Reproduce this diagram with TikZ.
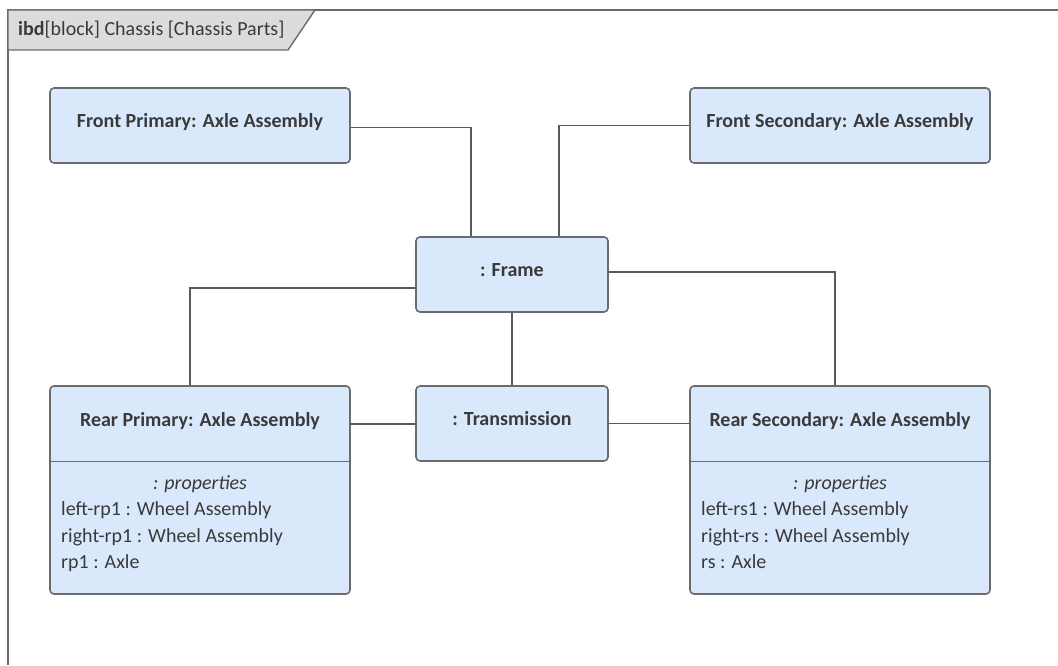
\documentclass[tikz,border=0pt]{standalone}
\usepackage{fontspec}
\setmainfont{Carlito}
\usetikzlibrary{positioning,calc}
\definecolor{Edge}{HTML}{6B6B6B}
\definecolor{Wire}{HTML}{5A5A5A}
\definecolor{Sky}{HTML}{DAE8FC}
\definecolor{Ink}{HTML}{3A3A3A}
\definecolor{TabGray}{HTML}{DCDCDC}
\newcommand{\partfont}{\fontsize{20}{24}\selectfont}
\tikzset{
  partbox/.style={draw=Edge,rounded corners=4pt,fill=Sky,line width=1.6pt,minimum width=300pt,minimum height=75pt,font=\partfont\bfseries,text=Ink,text height=14pt,text depth=10pt},
  smallbox/.style={partbox,minimum width=192pt},
  headbox/.style={minimum width=300pt,minimum height=76pt,font=\partfont\bfseries,text=Ink,text height=14pt,text depth=10pt},
  proptext/.style={text=Ink,anchor=base west,inner sep=0pt},
  wire/.style={draw=Wire,line width=1.3pt}
}

\begin{document}
\begin{tikzpicture}[x=1pt,y=1pt,font=\partfont]
  \useasboundingbox (0,0) rectangle (1058,665);
  % diagram frame and tab
  \draw[draw=Edge,line width=1.8pt] (8,0) -- (8,655) -- (1058,655);
  \draw[draw=Edge,line width=1.4pt,fill=TabGray] (8,655) -- (315,655) -- (288,615) -- (8,615) -- cycle;
  \node[anchor=base west,inner sep=0pt,text=Ink] (title) at (18,629) {\textbf{ibd}[block] Chassis [Chassis Parts]};

  % parts
  \node[partbox] (fp) at (200,539.5) {Front Primary: Axle Assembly};
  \node[partbox] (fs) at (840,539.5) {Front Secondary: Axle Assembly};
  \node[smallbox] (fr) at (512,390.5) {: Frame};
  \node[smallbox] (tr) at (512,241.5) {: Transmission};

  \node[partbox,minimum height=208pt] (rp) at (200,175) {};
  \node[headbox] (rpt) at (200,241) {Rear Primary: Axle Assembly};
  \draw[draw=Edge,line width=1.4pt] ($(rp.north west)+(0,-76)$) -- ($(rp.north east)+(0,-76)$);
  \node[proptext,anchor=base] (rpp) at (200,176) {\itshape : properties};
  \node[proptext] (rp1) at (61,150) {left-rp1 : Wheel Assembly};
  \node[proptext] (rp2) at (61,123) {right-rp1 : Wheel Assembly};
  \node[proptext] (rp3) at (61,97) {rp1 : Axle};

  \node[partbox,minimum height=208pt] (rs) at (840,175) {};
  \node[headbox] (rst) at (840,241) {Rear Secondary: Axle Assembly};
  \draw[draw=Edge,line width=1.4pt] ($(rs.north west)+(0,-76)$) -- ($(rs.north east)+(0,-76)$);
  \node[proptext,anchor=base] (rsp) at (840,176) {\itshape : properties};
  \node[proptext] (rs1) at (701,150) {left-rs1 : Wheel Assembly};
  \node[proptext] (rs2) at (701,123) {right-rs : Wheel Assembly};
  \node[proptext] (rs3) at (701,97) {rs : Axle};

  % connectors
  \draw[wire] ([yshift=-2pt]fp.east) -| ([xshift=-41pt]fr.north);
  \draw[wire] (fs.west) -| ([xshift=47pt]fr.north);
  \draw[wire] ([yshift=-13.5pt]fr.west) -| ([xshift=-10pt]rp.north);
  \draw[wire] ([yshift=2.5pt]fr.east) -| ([xshift=-5pt]rs.north);
  \draw[wire] (fr.south) -- (tr.north);
  \draw[wire] (rpt.east) -- (rpt.east -| tr.west);
  \draw[wire] (tr.east) -- (tr.east -| rst.west);
\end{tikzpicture}
\end{document}
